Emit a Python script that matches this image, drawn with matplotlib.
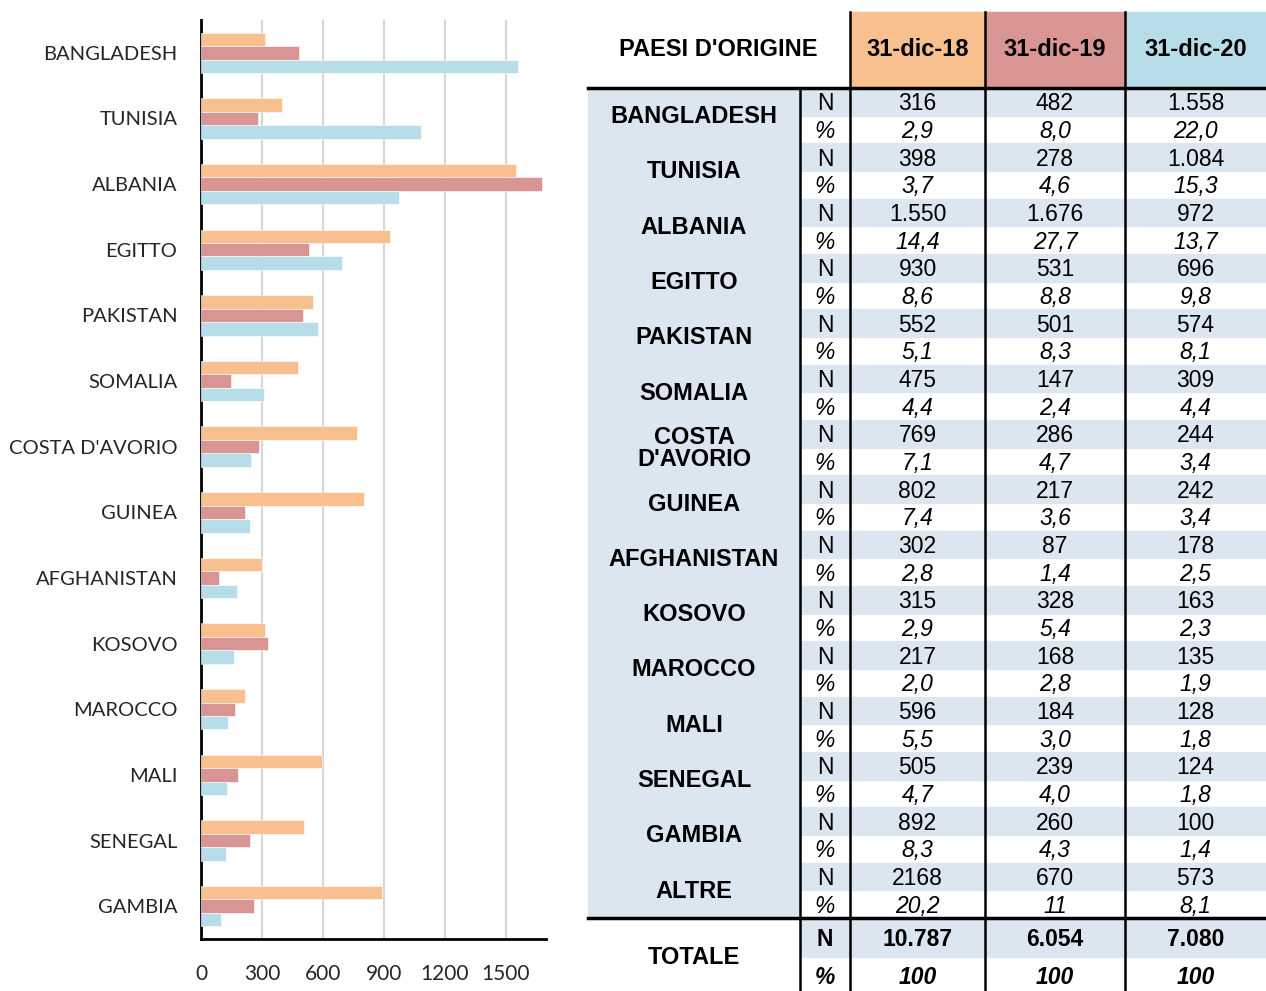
import matplotlib.pyplot as plt
from matplotlib.patches import Rectangle

# ----------------------------
# Data
# ----------------------------
countries = ["BANGLADESH", "TUNISIA", "ALBANIA", "EGITTO", "PAKISTAN", "SOMALIA",
             "COSTA D'AVORIO", "GUINEA", "AFGHANISTAN", "KOSOVO", "MAROCCO",
             "MALI", "SENEGAL", "GAMBIA"]
years = ["31-dic-18", "31-dic-19", "31-dic-20"]
n18 = [316, 398, 1550, 930, 552, 475, 769, 802, 302, 315, 217, 596, 505, 892]
n19 = [482, 278, 1676, 531, 501, 147, 286, 217, 87, 328, 168, 184, 239, 260]
n20 = [1558, 1084, 972, 696, 574, 309, 244, 242, 178, 163, 135, 128, 124, 100]
p18 = ["2,9", "3,7", "14,4", "8,6", "5,1", "4,4", "7,1", "7,4", "2,8", "2,9", "2,0", "5,5", "4,7", "8,3"]
p19 = ["8,0", "4,6", "27,7", "8,8", "8,3", "2,4", "4,7", "3,6", "1,4", "5,4", "2,8", "3,0", "4,0", "4,3"]
p20 = ["22,0", "15,3", "13,7", "9,8", "8,1", "4,4", "3,4", "3,4", "2,5", "2,3", "1,9", "1,8", "1,8", "1,4"]
altre_n = ["2168", "670", "573"]
altre_p = ["20,2", "11", "8,1"]
totale_n = ["10.787", "6.054", "7.080"]
totale_p = ["100", "100", "100"]
xticks = [0, 300, 600, 900, 1200, 1500]

colors = ["#F9C08F", "#D99594", "#B7DDE8"]
shade = "#DCE6F1"

W, H = 1266, 991
fig = plt.figure(figsize=(W / 100, H / 100), dpi=100)

# ----------------------------
# Bar chart (left)
# ----------------------------
ax = fig.add_axes([201 / W, 1 - 939 / H, (546 - 201) / W, (939 - 20) / H])
bh = 0.205
ypos = list(range(len(countries)))
for k, vals in enumerate([n18, n19, n20]):
    ax.barh([y + (k - 1) * bh for y in ypos], vals, height=bh,
            color=colors[k], edgecolor="white", linewidth=0.4, zorder=3)
ax.set_ylim(len(countries) - 0.5, -0.5)
ax.set_xlim(0, 1697)
ax.set_yticks(ypos)
ax.set_yticklabels(countries, fontsize=14.5, family="Lato", color="#262626")
ax.set_xticks(xticks)
ax.set_xticklabels([str(t) for t in xticks], fontsize=15, family="Lato", color="#262626")
ax.tick_params(axis="y", length=0, pad=17)
ax.tick_params(axis="x", length=0, pad=18)
ax.grid(axis="x", color="#d6d6d6", linewidth=1.5, zorder=0)
for s in ["top", "right"]:
    ax.spines[s].set_visible(False)
ax.spines["left"].set_linewidth(2)
ax.spines["bottom"].set_linewidth(2)

# ----------------------------
# Table (right), pixel coordinates
# ----------------------------
tx = fig.add_axes([0, 0, 1, 1])
tx.set_xlim(0, W)
tx.set_ylim(H, 0)
tx.axis("off")

c_lab, c_nc, c1, c2, c3, c_end = 588, 800, 850, 985, 1125, 1266
col_l = [c1, c2, c3]
col_r = [c2, c3, c_end]
top, hdr_b, body_b = 12, 88, 918
rh = (body_b - hdr_b) / 30
tot_rows = [918, 957, 991]

bold = dict(family="Liberation Sans", fontweight="bold")
reg = dict(family="Liberation Sans")
fs_b, fs_r = 17, 16.5

# header
for k in range(3):
    tx.add_patch(Rectangle((col_l[k], top), col_r[k] - col_l[k], hdr_b - top, color=colors[k], zorder=1))
    tx.text((col_l[k] + col_r[k]) / 2, 50, years[k], ha="center", va="center", fontsize=fs_b, **bold)
tx.text((c_lab + c1) / 2 - 1, 50, "PAESI D'ORIGINE", ha="center", va="center", fontsize=fs_b, **bold)

# body
tx.add_patch(Rectangle((c_lab, hdr_b), c_nc - c_lab, body_b - hdr_b, color=shade, zorder=1))
labels = countries + ["ALTRE"]
labels = [l.replace("COSTA D'AVORIO", "COSTA\nD'AVORIO") for l in labels]
n_rows = [[n18[i], n19[i], n20[i]] for i in range(len(countries))]
n_txt = [["{:,}".format(v).replace(",", ".") for v in r] for r in n_rows] + [altre_n]
p_txt = [[p18[i], p19[i], p20[i]] for i in range(len(countries))] + [altre_p]
for i, lab in enumerate(labels):
    y0 = hdr_b + 2 * i * rh
    tx.add_patch(Rectangle((c_nc, y0), c_end - c_nc, rh, color=shade, zorder=1))
    tx.text((c_lab + c_nc) / 2, y0 + rh + 1, lab, ha="center", va="center", fontsize=fs_b,
            linespacing=0.92, **bold)
    tx.text((c_nc + c1) / 2, y0 + rh / 2 + 2, "N", ha="center", va="center", fontsize=fs_r, **reg)
    tx.text((c_nc + c1) / 2, y0 + 1.5 * rh + 2, "%", ha="center", va="center", fontsize=fs_r,
            style="italic", **reg)
    for k in range(3):
        xc = (col_l[k] + col_r[k]) / 2
        tx.text(xc, y0 + rh / 2 + 2, n_txt[i][k], ha="center", va="center", fontsize=fs_r, **reg)
        tx.text(xc, y0 + 1.5 * rh + 2, p_txt[i][k], ha="center", va="center", fontsize=fs_r,
                style="italic", **reg)

# totale
tx.add_patch(Rectangle((c_nc, tot_rows[0]), c_end - c_nc, tot_rows[1] - tot_rows[0], color=shade, zorder=1))
tx.text((c_lab + c_nc) / 2, (tot_rows[0] + tot_rows[2]) / 2 + 3, "TOTALE", ha="center", va="center", fontsize=fs_b, **bold)
tx.text((c_nc + c1) / 2, 940, "N", ha="center", va="center", fontsize=fs_r, **bold)
tx.text((c_nc + c1) / 2, 977, "%", ha="center", va="center", fontsize=fs_r, style="italic", **bold)
for k in range(3):
    xc = (col_l[k] + col_r[k]) / 2
    tx.text(xc, 940, totale_n[k], ha="center", va="center", fontsize=fs_r, **bold)
    tx.text(xc, 977, totale_p[k], ha="center", va="center", fontsize=fs_r, style="italic", **bold)

# grid lines
tx.plot([c_lab, c_end], [hdr_b, hdr_b], color="black", lw=2.5, zorder=4)
tx.plot([c_lab, c_end], [body_b, body_b], color="black", lw=2.5, zorder=4)
tx.plot([c_nc, c_nc], [hdr_b, H], color="black", lw=1.8, zorder=4)
for x in [c1, c2, c3]:
    tx.plot([x, x], [top, H], color="black", lw=1.8, zorder=4)

fig.savefig("out.png", dpi=100)
